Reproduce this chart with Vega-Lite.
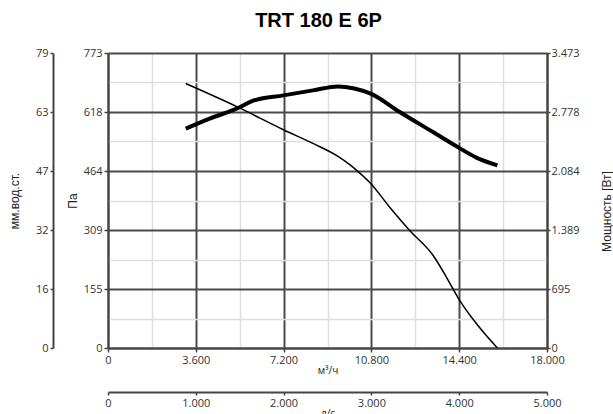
{
  "$schema": "https://vega.github.io/schema/vega-lite/v6.json",
  "width": 439,
  "height": 295,
  "autosize": {"type": "none"},
  "padding": {"left": 108, "top": 53, "right": 66, "bottom": 66},
  "background": "white",
  "config": {
    "locale": {"number": {"decimal": ",", "thousands": ".", "grouping": [3], "currency": ["", ""]}},
    "view": {"stroke": null},
    "axis": {
      "labelFont": "Open Sans",
      "labelFontSize": 11,
      "labelColor": "#333333",
      "titleFont": "Liberation Sans",
      "titleFontSize": 12,
      "titleFontWeight": "normal",
      "titleColor": "#222222",
      "domainColor": "#444444",
      "domainWidth": 2,
      "tickColor": "#444444",
      "tickWidth": 1.5,
      "tickSize": 4,
      "labelPadding": 2,
      "labelOverlap": false,
      "labelFlush": false
    }
  },
  "title": {
    "text": "TRT 180 E 6P",
    "font": "Liberation Sans",
    "fontSize": 20,
    "fontWeight": "bold",
    "color": "#000000",
    "anchor": "middle",
    "offset": 16,
    "dx": -9
  },
  "datasets": {
    "pressure": [
      {"q": 3186, "pa": 693},
      {"q": 5330, "pa": 631},
      {"q": 7191, "pa": 572},
      {"q": 8400, "pa": 536},
      {"q": 9430, "pa": 502},
      {"q": 9900, "pa": 481},
      {"q": 10184, "pa": 466},
      {"q": 10771, "pa": 431},
      {"q": 11550, "pa": 369},
      {"q": 12370, "pa": 308},
      {"q": 13325, "pa": 243},
      {"q": 13874, "pa": 186},
      {"q": 14379, "pa": 129},
      {"q": 15104, "pa": 64},
      {"q": 15965, "pa": 0}
    ],
    "power": [
      {"q": 3186, "w": 2582},
      {"q": 4170, "w": 2700},
      {"q": 5330, "w": 2825},
      {"q": 5880, "w": 2904},
      {"q": 7191, "w": 2974},
      {"q": 8405, "w": 3033},
      {"q": 9430, "w": 3080},
      {"q": 10100, "w": 3055},
      {"q": 10771, "w": 2994},
      {"q": 11960, "w": 2778},
      {"q": 13325, "w": 2542},
      {"q": 14379, "w": 2359},
      {"q": 15104, "w": 2241},
      {"q": 15965, "w": 2150}
    ],
    "mm": [{"mm": 0}, {"mm": 79}],
    "ls": [{"ls": 0}, {"ls": 5000}]
  },
  "layer": [
    {
      "data": {"name": "pressure"},
      "mark": {"type": "line", "color": "#000000", "strokeWidth": 1.5, "interpolate": "monotone"},
      "encoding": {
        "x": {
          "field": "q", "type": "quantitative",
          "scale": {"domain": [0, 18000], "nice": false, "zero": false},
          "axis": {
            "orient": "bottom",
            "title": "м³/ч",
            "titleFont": "Open Sans",
            "titleFontSize": 10,
            "titlePadding": 0,
            "values": [0, 1800, 3600, 5400, 7200, 9000, 10800, 12600, 14400, 16200, 18000],
            "format": ",.0f",
            "labelExpr": "round(datum.value / 1800) % 2 === 1 ? '' : datum.label",
            "grid": true,
            "gridColor": {"condition": {"test": "round(datum.value / 1800) % 2 === 1", "value": "#dedede"}, "value": "#4a4a4a"},
            "gridWidth": {"condition": {"test": "round(datum.value / 1800) % 2 === 1", "value": 1.5}, "value": 2},
            "tickOpacity": {"condition": {"test": "round(datum.value / 1800) % 2 === 1", "value": 0}, "value": 1}
          }
        },
        "y": {
          "field": "pa", "type": "quantitative",
          "scale": {"domain": [0, 773], "nice": false, "zero": false},
          "axis": {
            "orient": "left",
            "title": "Па",
            "titlePadding": 4,
            "values": [0, 77.3, 154.6, 231.9, 309.2, 386.5, 463.8, 541.1, 618.4, 695.7, 773],
            "format": ".0f",
            "labelExpr": "round(datum.value / 77.3) % 2 === 1 ? '' : datum.label",
            "grid": true,
            "gridColor": {"condition": {"test": "round(datum.value / 77.3) % 2 === 1", "value": "#dedede"}, "value": "#4a4a4a"},
            "gridWidth": {"condition": {"test": "round(datum.value / 77.3) % 2 === 1", "value": 1.5}, "value": 2},
            "tickOpacity": {"condition": {"test": "round(datum.value / 77.3) % 2 === 1", "value": 0}, "value": 1}
          }
        }
      }
    },
    {
      "data": {"name": "power"},
      "mark": {"type": "line", "color": "#000000", "strokeWidth": 4, "interpolate": "monotone"},
      "encoding": {
        "x": {
          "field": "q", "type": "quantitative",
          "scale": {"domain": [0, 18000], "nice": false, "zero": false},
          "axis": null
        },
        "y": {
          "field": "w", "type": "quantitative",
          "scale": {"domain": [0, 3473], "nice": false, "zero": false},
          "axis": {
            "orient": "right",
            "title": "Мощность [Вт]",
            "titleAngle": 270,
            "titleX": 59,
            "titleY": 158,
            "titleAlign": "center",
            "titleBaseline": "middle",
            "values": [0, 694.6, 1389.2, 2083.8, 2778.4, 3473],
            "format": ",.0f",
            "tickSize": 3,
            "labelPadding": 1,
            "grid": false
          }
        }
      }
    },
    {
      "data": {"name": "mm"},
      "mark": {"type": "point", "opacity": 0},
      "encoding": {
        "y": {
          "field": "mm", "type": "quantitative",
          "scale": {"domain": [0, 79], "nice": false, "zero": false},
          "axis": {
            "orient": "left",
            "offset": 55,
            "title": "мм.вод.ст.",
            "titleFont": "Liberation Sans",
            "titleFontSize": 12,
            "titlePadding": 14,
            "values": [0, 15.8, 31.6, 47.4, 63.2, 79],
            "format": ".0f",
            "tickSize": 3,
            "grid": false
          }
        }
      }
    },
    {
      "data": {"name": "ls"},
      "mark": {"type": "point", "opacity": 0},
      "encoding": {
        "x": {
          "field": "ls", "type": "quantitative",
          "scale": {"domain": [0, 5000], "nice": false, "zero": false},
          "axis": {
            "orient": "bottom",
            "offset": 44,
            "title": "л/с",
            "titleFont": "Open Sans",
            "titleFontSize": 10,
            "titlePadding": 0,
            "values": [0, 1000, 2000, 3000, 4000, 5000],
            "format": ",.0f",
            "tickSize": 3,
            "grid": false
          }
        }
      }
    }
  ],
  "resolve": {"scale": {"x": "independent", "y": "independent"}}
}
